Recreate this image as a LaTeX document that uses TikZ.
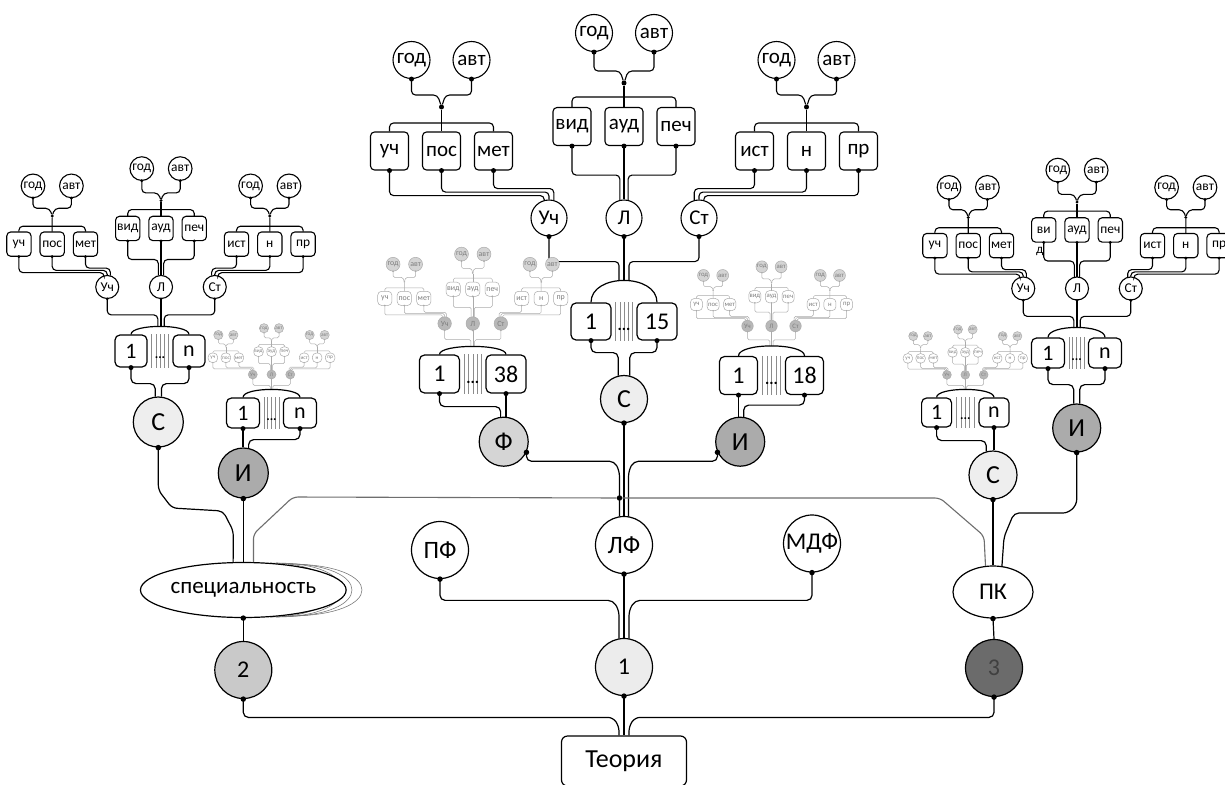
\documentclass[tikz,border=0pt]{standalone}
\usepackage{fontspec}
\setmainfont{Carlito}
\usetikzlibrary{calc,shapes.geometric}
\definecolor{fgray}{HTML}{ABABAB}
\definecolor{ftext}{HTML}{7E7E7E}
\definecolor{ffill}{HTML}{D4D4D4}
\definecolor{fchild}{HTML}{B8B8B8}
\definecolor{glinecol}{HTML}{6E6E6E}
\definecolor{cone}{HTML}{ECECEC}
\definecolor{ctwo}{HTML}{C9C9C9}
\definecolor{cthree}{HTML}{6B6B6B}
\definecolor{cC}{HTML}{EEEEEE}
\definecolor{cF}{HTML}{D5D5D5}
\definecolor{cI}{HTML}{ABABAB}
\newcommand{\myfs}[1]{\fontsize{#1}{#1}\selectfont}

\tikzset{
 tline/.style={draw=black, line width=1.1pt, rounded corners=4pt},
 tcirc/.style={circle, draw=black, line width=1.1pt, fill=white, minimum size=37pt, inner sep=0pt, font=\myfs{21}},
 tbox/.style={rectangle, rounded corners=4pt, draw=black, line width=1.1pt, fill=white, minimum width=38pt, minimum height=38pt, inner sep=0pt, font=\myfs{21}},
 tchild/.style={circle, draw=black, line width=1.1pt, fill=white, minimum size=36pt, inner sep=0pt, font=\myfs{21}},
 tdot/.style={circle, fill=black, minimum size=5pt, inner sep=0pt},
 faded/.style={
   tline/.style={draw=fgray, line width=0.5pt, rounded corners=1.5pt},
   tcirc/.style={circle, draw=fgray, line width=0.5pt, fill=ffill, text=ftext, minimum size=37pt, inner sep=0pt, font=\myfs{21}},
   tbox/.style={rectangle, rounded corners=4pt, draw=fgray, line width=0.5pt, fill=white, text=ftext, minimum width=38pt, minimum height=38pt, inner sep=0pt, font=\myfs{21}},
   tchild/.style={circle, draw=fgray, line width=0.5pt, fill=fchild, text=ftext, minimum size=36pt, inner sep=0pt, font=\myfs{21}},
   tdot/.style={circle, fill=fgray, minimum size=5pt, inner sep=0pt}},
 mline/.style={draw=black, line width=1.2pt, rounded corners=5pt},
 gl/.style={draw=glinecol, line width=1.1pt, rounded corners=5pt},
 mcirc/.style={circle, draw=black, line width=1.2pt, inner sep=0pt, minimum size=57pt, font=\myfs{26}, fill=white},
 nbox/.style={rectangle, rounded corners=5pt, draw=black, line width=1.2pt, fill=white, inner sep=0pt, font=\myfs{24}},
 nline/.style={draw=black!45, line width=0.5pt},
 ndots/.style={font=\bfseries\myfs{16}, inner sep=0pt},
 mdot/.style={circle, fill=black, minimum size=5.5pt, inner sep=0pt},
 echo/.style={draw=black!55, line width=0.55pt}
}

% one group: name, gx, ycirc, yjunction, ybar, ybox, labels
\newcommand{\tgroup}[9]{%
  \node[tcirc] (#1g) at (#2-30,#3) {год};
  \node[tcirc] (#1a) at (#2+30,#3) {авт};
  \node[tdot] (#1j) at (#2,#4) {};
  \node[tbox] (#1b1) at (#2-52,#6) {#7};
  \node[tbox] (#1b2) at (#2,#6) {#8};
  \node[tbox] (#1b3) at (#2+52,#6) {#9};
  \draw[tline] (#1g.south) |- (#2-4,#4-12) -- (#1j);
  \draw[tline] (#1a.south) |- (#2+4,#4-12) -- (#1j);
  \draw[tline] (#1j) -- (#1b2.north);
  \draw[tline] (#1b1.north) |- (#2,#5) -| (#1b3.north);
  \node[tdot] (#1gd) at (#1g.south) {};
  \node[tdot] (#1ad) at (#1a.south) {};
  \node[tdot] (#1d1) at (#1b1.south) {};
  \node[tdot] (#1d2) at (#1b2.south) {};
  \node[tdot] (#1d3) at (#1b3.south) {};
}

% tree: name, x, y, scale, G, C, style, label of first middle box
\newcommand{\drawtree}[8]{%
 \begin{scope}[shift={(#2,#3)}, scale=#4, transform shape, #7]
  \tgroup{#1L}{-#5}{-158}{-111}{-95}{-67}{уч}{пос}{мет}
  \tgroup{#1M}{0}{-185}{-135}{-121}{-91.5}{#8}{ауд}{печ}
  \tgroup{#1R}{#5}{-158}{-111}{-95}{-67}{ист}{н}{пр}
  \node[tchild] (#1U) at (-#6,0) {Уч};
  \node[tchild] (#1Y) at (0,0) {Л};
  \node[tchild] (#1S) at (#6,0) {Ст};
  \draw[tline] (#1Lb1.south) -- ++(0,25) -| (#1U.105);
  \draw[tline] (#1Lb2.south) -- ++(0,21.5) -| (#1U.90);
  \draw[tline] (#1Lb3.south) -- ++(0,18) -| (#1U.75);
  \draw[tline] (#1Mb1.south) -- ++(0,29) -| (#1Y.103);
  \draw[tline] (#1Mb2.south) -- (#1Y.north);
  \draw[tline] (#1Mb3.south) -- ++(0,29) -| (#1Y.77);
  \draw[tline] (#1Rb1.south) -- ++(0,18) -| (#1S.105);
  \draw[tline] (#1Rb2.south) -- ++(0,21.5) -| (#1S.90);
  \draw[tline] (#1Rb3.south) -- ++(0,25) -| (#1S.75);
  \coordinate (#1e1) at (-5,62);
  \coordinate (#1e2) at (0,62);
  \coordinate (#1e3) at (5,62);
  \draw[tline] (#1U.south) -- ++(0,25) -| (#1e1);
  \draw[tline] (#1Y.south) -- (#1e2);
  \draw[tline] (#1S.south) -- ++(0,25) -| (#1e3);
  \node[tdot] (#1Ud) at (#1U.south) {};
  \node[tdot] (#1Yd) at (#1Y.south) {};
  \node[tdot] (#1Sd) at (#1S.south) {};
 \end{scope}}

% n-block: name, xc, box top, half spacing, w, h, dome height, labels
\newcommand{\nblock}[9]{%
  \node[nbox, minimum width=#5pt, minimum height=#6pt] (#1a) at (#2-#4,#3+#6/2) {#8};
  \node[nbox, minimum width=#5pt, minimum height=#6pt] (#1b) at (#2+#4,#3+#6/2) {#9};
  \foreach \k in {1,...,5}
    \draw[nline] ($(#1a.north east)!\k/6!(#1b.north west)$) -- ($(#1a.south east)!\k/6!(#1b.south west)$);
  \draw[mline] (#1a.north) .. controls +(0,-1.333*#7) and +(0,-1.333*#7) .. (#1b.north);
  \node[ndots] (#1dots) at ($(#1a.east)!0.5!(#1b.west)+(0,#6*0.22)$) {...};
  \node[tdot] (#1da) at (#1a.south) {};
  \node[tdot] (#1db) at (#1b.south) {};
}

\begin{document}
\begin{tikzpicture}[x=1pt, y=-1pt]
\useasboundingbox (0,0) rectangle (1225,784);
\fill[white] (0,0) rectangle (1225,784);

% ---------- trees ----------
\drawtree{C}{624}{218}{1}{182.5}{75}{}{вид}
\drawtree{Lt}{161}{287}{0.64}{170}{84}{}{вид}
\drawtree{Rt}{1077}{288.5}{0.64}{170}{84}{}{ви}
\node[font=\myfs{13}, inner sep=0pt] (Rtvd) at ($(RtMb1.south)+(-4,9)$) {д};
\drawtree{Fa}{472.75}{323.5}{0.375}{182.5}{75}{faded}{вид}
\drawtree{Fb}{771.5}{326}{0.32}{182.5}{75}{faded}{вид}
\drawtree{Fc}{271.5}{374.5}{0.25}{182.5}{75}{faded}{вид}
\drawtree{Fd}{965.3}{374.8}{0.245}{182.5}{75}{faded}{вид}

% ---------- n-blocks ----------
\nblock{NA}{624}{303}{33}{40}{37}{22}{1}{15}
\nblock{NB}{472.75}{355}{33.25}{40}{38}{8}{1}{38}
\nblock{NC}{771.5}{356.5}{33}{38}{38}{10}{1}{18}
\begin{scope}[nbox/.append style={font=\myfs{22}}, ndots/.append style={font=\bfseries\myfs{13}}]
\nblock{NL}{160}{335}{29}{32}{32}{8}{1}{n}
\nblock{NLs}{271.5}{398}{28.5}{33}{30}{8}{1}{n}
\nblock{NR}{1076.5}{338}{28.5}{33}{30}{10}{1}{n}
\nblock{NRs}{965.3}{398}{28.7}{30}{29}{8}{1}{n}
\end{scope}

% ---------- main nodes ----------
\node[mcirc, minimum size=47pt, fill=cC] (Cc) at (624,399) {С};
\node[mcirc, minimum size=49pt, fill=cF] (F) at (503.7,441.7) {Ф};
\node[mcirc, minimum size=49pt, fill=cI] (Ic) at (740.2,441.7) {И};
\node[mcirc, minimum size=50pt, fill=cC] (Cl) at (158.3,422) {С};
\node[mcirc, minimum size=50pt, fill=cI] (Il) at (243.3,473) {И};
\node[mcirc, minimum size=48pt, fill=cC] (Cr) at (993,475) {С};
\node[mcirc, minimum size=48pt, fill=cI] (Ir) at (1076.7,428) {И};
\node[mcirc, font=\myfs{25}] (PF) at (440,550) {ПФ};
\node[mcirc, font=\myfs{25}] (LF) at (624,545) {ЛФ};
\node[mcirc, font=\myfs{24}] (MDF) at (812,543.5) {МДФ};
\node[mcirc, fill=cone, font=\myfs{24}] (one) at (624,667) {1};
\node[mcirc, fill=ctwo, font=\myfs{24}] (two) at (243.3,670) {2};
\node[mcirc, fill=cthree, text=black!75, font=\myfs{24}] (three) at (994,668) {3};

\draw[echo] (270,563) .. controls ({270+1.333*(332-270)},563) and ({270+1.333*(332-270)},617) .. (270,617);
\draw[echo] (276,563) .. controls ({276+1.333*(342-276)},563) and ({276+1.333*(342-276)},617) .. (276,617);
\draw[echo] (282,563.5) .. controls ({282+1.333*(352-282)},563.5) and ({282+1.333*(352-282)},616.5) .. (282,616.5);
\draw[echo] (288,564) .. controls ({288+1.333*(362-288)},564) and ({288+1.333*(362-288)},616) .. (288,616);
\node[ellipse, draw=black, line width=1.2pt, fill=white, minimum width=162pt, minimum height=55pt, inner sep=0pt, font=\myfs{23}] (Spec) at (243.3,590) {специальность};
\node[ellipse, draw=black, line width=1.2pt, fill=white, minimum width=80pt, minimum height=52pt, inner sep=0pt, font=\myfs{24}] (PK) at (993,592) {ПК};
\node[rectangle, rounded corners=6pt, draw=black, line width=1.2pt, fill=white, minimum width=125pt, minimum height=50pt, font=\myfs{26}] (T) at (624,761) {Теория};

\node[mdot] (gj) at (619.5,498) {};

% ---------- connectors ----------
\draw[mline] (NAa.south) -- ++(0,12) -| (Cc.104);
\draw[mline] (NAb.south) -- ++(0,12) -| (Cc.76);
\draw[mline] (NBa.south) -- ++(0,13) -| (F.97);
\draw[mline] (NBb.south) -- (NBb.south |- F.north);
\draw[mline] (NCa.south) -- (NCa.south |- Ic.north);
\draw[mline] (NCb.south) -- ++(0,10) -| (Ic.82);

\draw[mline] (F.-25) |- ($(LF.99)+(-5,-55)$) -- ($(LF.99)+(0,-45)$) -- (LF.99);
\draw[mline] (Ic.205) |- ($(LF.81)+(5,-55)$) -- ($(LF.81)+(0,-45)$) -- (LF.81);
\draw[mline] (Cc.south) -- (LF.north);

\draw[gl] (Spec.70) -- ++(0,-28) -- (293,497) -- (gj) -- (940,498) -- (984,536) -- (PK.106);
\draw[mline] (Cr.south) -- (PK.north);
\draw[mline] (Ir.south) -- ++(0,52) -- (1068,513) -- (1014,513) -- (1004,537) -- (PK.71);

\draw[mline] (NLa.south) -- ++(0,16) -| (Cl.97);
\draw[mline] (NLb.south) -- ++(0,16) -| (Cl.83);
\draw[mline] (NLsa.south) -- (NLsa.south |- Il.north);
\draw[mline] (NLsb.south) -- ++(0,11) -| (Il.78);
\draw[mline] (Cl.south) -- (158.3,490) -- (172,508) -- (223,511) -- (233.3,531) -- (Spec.110);
\draw[mline] (Il.south) -- (Spec.north);
\draw[mline] (Spec.south) -- (two.north);

\draw[mline] (NRa.south) -- ++(0,16) -| (Ir.97);
\draw[mline] (NRb.south) -- ++(0,16) -| (Ir.83);
\draw[mline] (NRsa.south) -- ++(0,13) -| (Cr.106);
\draw[mline] (NRsb.south) -- (NRsb.south |- Cr.north);
\draw[mline] (PK.south) -- (three.north);

\draw[mline] (PF.south) |- ($(one.100)+(-6,-38)$) -- ($(one.100)+(0,-28)$) -- (one.100);
\draw[mline] (LF.south) -- (one.north);
\draw[mline] (MDF.south) |- ($(one.80)+(6,-38)$) -- ($(one.80)+(0,-28)$) -- (one.80);
\draw[mline] (one.south) -- (T.north);
\draw[mline] (two.south) |- ($(T.north)+(-11,-18)$) -- ($(T.north)+(-5,-9)$) -- ($(T.north)+(-5,0)$);
\draw[mline] (three.south) |- ($(T.north)+(11,-18)$) -- ($(T.north)+(5,-9)$) -- ($(T.north)+(5,0)$);

% ---------- dots ----------
\node[mdot] (dCc) at (Cc.south) {};
\node[mdot] (dF) at (F.-25) {};
\node[mdot] (dIc) at (Ic.205) {};
\node[mdot] (dCl) at (Cl.south) {};
\node[mdot] (dIl) at (Il.south) {};
\node[mdot] (dCr) at (Cr.south) {};
\node[mdot] (dIr) at (Ir.south) {};
\node[mdot] (dPF) at (PF.south) {};
\node[mdot] (dLF) at (LF.south) {};
\node[mdot] (dMDF) at (MDF.south) {};
\node[mdot] (done) at (one.south) {};
\node[mdot] (dtwo) at (two.south) {};
\node[mdot] (dthree) at (three.south) {};
\node[mdot] (dSpec) at (Spec.south) {};
\node[mdot] (dPK) at (PK.south) {};
\end{tikzpicture}
\end{document}
